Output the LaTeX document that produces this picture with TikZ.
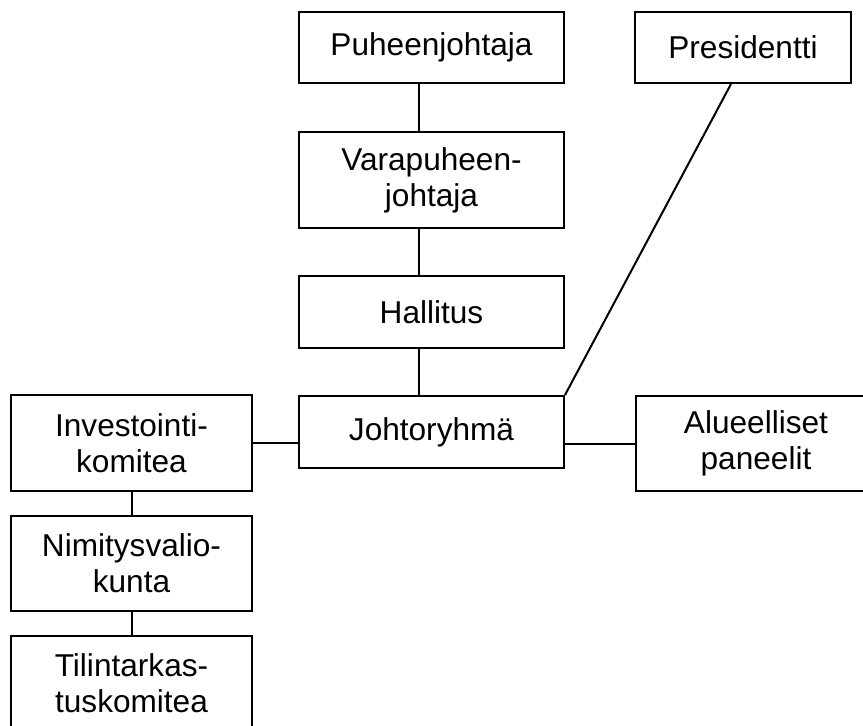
\documentclass[tikz,border=0pt]{standalone}
\usepackage{fontspec}
\setmainfont{Liberation Sans}
\tikzset{
  org/.style={draw, line width=2pt, rectangle, align=center, inner sep=0pt,
    font=\fontsize{31.6}{36}\selectfont},
  link/.style={line width=2pt}
}
\begin{document}
\begin{tikzpicture}[x=1pt,y=-1pt]
      \useasboundingbox (0,0) rectangle (863,726);
      \draw
        (431.5,47.5) node[org, minimum width=265pt, minimum height=71pt] (puh){Puheenjohtaja}
        (743,47.5) node[org, minimum width=216pt, minimum height=71pt] (pres){Presidentti}
        (431.5,180) node[org, minimum width=265pt, minimum height=96pt] (vara){Varapuheen-\\johtaja}
        (431.5,312) node[org, minimum width=265pt, minimum height=72pt] (hall){Hallitus}
        (431.5,432) node[org, minimum width=265pt, minimum height=72pt] (johto){Johtoryhmä}
        (131.5,443) node[org, minimum width=241pt, minimum height=96pt] (inv){Investointi-\\komitea}
        (756,443.5) node[org, minimum width=240pt, minimum height=95pt] (alue){Alueelliset\\paneelit}
        (131.5,563.5) node[org, minimum width=241pt, minimum height=95pt] (nim){Nimitysvalio-\\kunta}
        (131.5,683.5) node[org, minimum width=241pt, minimum height=95pt] (til){Tilintarkas-\\tuskomitea};
      \begin{scope}[link]
        \draw ([xshift=-12.5pt]puh.south) to ([xshift=-12.5pt]vara.north);
        \draw ([xshift=-12.5pt]vara.south) to ([xshift=-12.5pt]hall.north);
        \draw ([xshift=-12.5pt]hall.south) to ([xshift=-12.5pt]johto.north);
        \draw ([xshift=-12pt]pres.south) to (johto.north east);
        \draw (inv.east) to (inv.east -| johto.west);
        \draw (johto.east |- alue.west) to (alue.west);
        \draw (inv.south) to (nim.north);
        \draw (nim.south) to (til.north);
      \end{scope}
    \end{tikzpicture}
\end{document}
